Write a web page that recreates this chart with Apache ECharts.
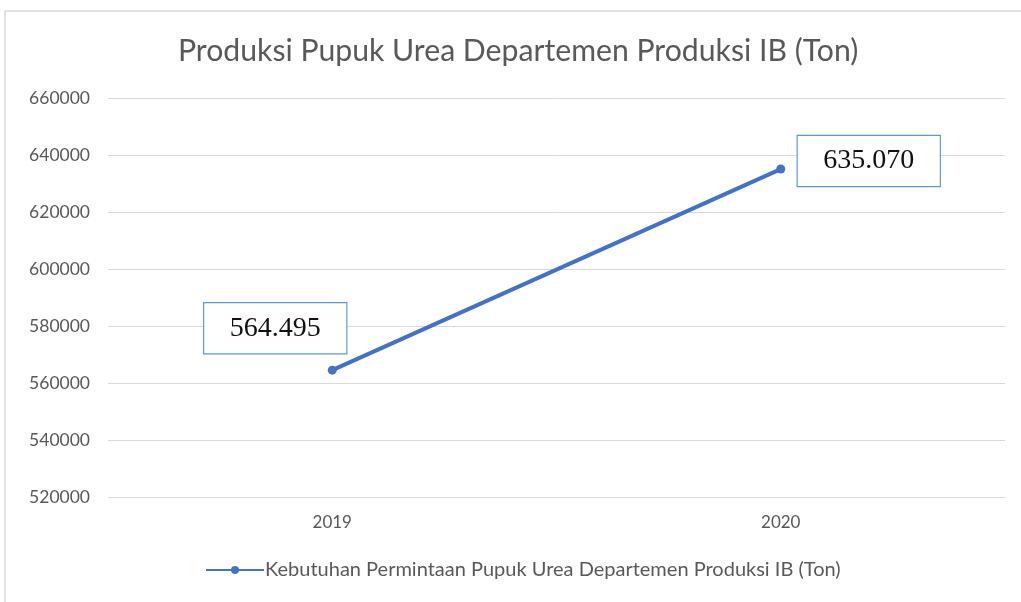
<!DOCTYPE html>
<html>
<head>
<meta charset="utf-8">
<script src="https://cdn.jsdelivr.net/npm/echarts@6/dist/echarts.min.js"></script>
<style>
  html, body { margin: 0; padding: 0; background: #fff; }
  #main { width: 1021px; height: 602px; }
</style>
</head>
<body>
<div id="main"></div>
<script>
// chart data
const years = ['2019', '2020'];
const demand = [564495, 635070];
const seriesName = 'Kebutuhan Permintaan Pupuk Urea Departemen Produksi IB (Ton)';

// label offsets for the callout boxes (one per point)
const labelOffsets = [[-57, -42], [88, -8]];

const chart = echarts.init(document.getElementById('main'));

const fmt = v => String(v).replace(/\B(?=(\d{3})+(?!\d))/g, '.');

const option = {
    animation: false,
    title: {
        text: 'Produksi Pupuk Urea Departemen Produksi IB (Ton)',
        left: 173,
        top: 31,
        textStyle: {
            fontFamily: 'Lato',
            fontWeight: 'normal',
            fontSize: 30.2,
            color: '#595959'
        }
    },
    graphic: [{
        type: 'rect',
        shape: { x: 5, y: 11, width: 1100, height: 700 },
        style: { fill: 'none', stroke: '#d9d9d9', lineWidth: 1.5 },
        silent: true,
        z: -1
    }],
    grid: {
        left: 108,
        right: 16,
        top: 98,
        bottom: 105
    },
    legend: {
        bottom: 17,
        left: 200,
        itemWidth: 58,
        itemHeight: 10,
        itemGap: 0,
        textStyle: {
            fontFamily: 'Lato',
            fontSize: 20,
            color: '#595959',
            padding: [0, 0, 0, -4]
        },
        data: [seriesName]
    },
    xAxis: {
        type: 'category',
        data: years,
        boundaryGap: true,
        axisLine: { show: false },
        axisTick: { show: false },
        axisLabel: {
            fontFamily: 'Lato',
            fontSize: 17,
            color: '#595959',
            margin: 17
        }
    },
    yAxis: {
        type: 'value',
        min: 520000,
        max: 660000,
        interval: 20000,
        axisLine: { show: false },
        axisTick: { show: false },
        splitLine: { lineStyle: { color: '#d9d9d9', width: 1 } },
        axisLabel: {
            fontFamily: 'Lato',
            fontSize: 17.5,
            color: '#595959',
            margin: 18,
            formatter: v => String(v)
        }
    },
    series: [{
        name: seriesName,
        type: 'line',
        symbol: 'circle',
        symbolSize: 9,
        lineStyle: { color: '#4472C4', width: 4 },
        itemStyle: { color: '#4472C4' },
        data: demand.map((v, i) => ({
            value: v,
            label: {
                show: true,
                position: 'inside',
                offset: labelOffsets[i],
                formatter: p => fmt(p.value),
                fontFamily: 'Liberation Serif',
                fontSize: 28,
                color: '#111',
                backgroundColor: '#fff',
                borderColor: '#5B9BD5',
                borderWidth: 1.2,
                width: 142,
                height: 50,
                align: 'center',
                verticalAlign: 'middle',
                lineHeight: 50
            }
        }))
    }]
};

chart.setOption(option);
</script>
</body>
</html>
